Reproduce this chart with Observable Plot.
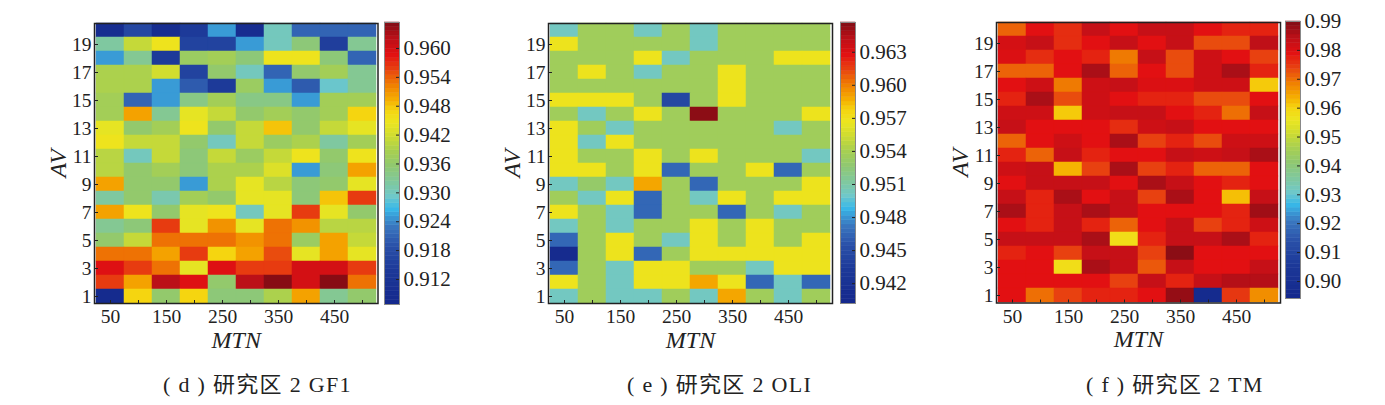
<!DOCTYPE html>
<html>
<head>
<meta charset="utf-8">
<script src="https://cdn.jsdelivr.net/npm/d3@7"></script>
<script src="https://cdn.jsdelivr.net/npm/@observablehq/plot@0.6"></script>
<style>
  body { margin: 0; background: #fff; }
  #chart { position: relative; width: 1385px; height: 405px; overflow: hidden; }
  #chart svg { position: absolute; max-width: none; background: transparent; }
  [aria-label="x-axis label"], [aria-label="y-axis label"] { font-style: italic; font-size: 24px; }
  .caption { position: absolute; top: 366px; font: 22px "Liberation Serif", "Noto Sans CJK SC", serif; letter-spacing: 1.3px; color: #222; white-space: pre; }
</style>
</head>
<body>
<div id="chart"></div>
<script>
const mtnValues = [50, 100, 150, 200, 250, 300, 350, 400, 450, 500]
const avValues = [20, 19, 18, 17, 16, 15, 14, 13, 12, 11, 10, 9, 8, 7, 6, 5, 4, 3, 2, 1]
const mtnTicks = [50, 150, 250, 350, 450]
const avTicks = [19, 17, 15, 13, 11, 9, 7, 5, 3, 1]

// one row per AV, from 20 down to 1
const gf1Values = [
  [.909, .917, .909, .914, .925, .909, .930, .921, .921, .921],
  [.932, .941, .945, .916, .916, .925, .930, .935, .915, .933],
  [.925, .933, .914, .937, .938, .935, .945, .945, .935, .921],
  [.939, .939, .942, .916, .936, .930, .921, .936, .938, .933],
  [.939, .939, .925, .920, .914, .937, .925, .920, .929, .933],
  [.938, .921, .925, .934, .938, .934, .934, .925, .938, .938],
  [.938, .950, .933, .944, .941, .936, .938, .936, .938, .947],
  [.944, .936, .938, .945, .936, .941, .948, .936, .941, .944],
  [.945, .941, .941, .936, .930, .941, .937, .939, .932, .938],
  [.940, .930, .941, .935, .941, .937, .941, .945, .936, .945],
  [.940, .936, .938, .935, .939, .939, .943, .925, .935, .950],
  [.950, .936, .936, .925, .939, .944, .940, .935, .936, .944],
  [.932, .936, .931, .938, .936, .944, .944, .935, .948, .956],
  [.950, .945, .936, .944, .945, .930, .944, .956, .944, .936],
  [.933, .935, .956, .944, .951, .944, .953, .951, .940, .940],
  [.936, .941, .953, .953, .953, .951, .953, .937, .950, .941],
  [.953, .953, .950, .956, .947, .950, .955, .944, .950, .944],
  [.959, .956, .953, .944, .959, .956, .956, .960, .960, .956],
  [.956, .950, .962, .959, .936, .962, .965, .960, .965, .953],
  [.908, .947, .936, .947, .935, .935, .939, .950, .933, .936]
]

const oliValues = [
  [.9502, .9536, .9536, .9502, .9536, .9502, .9536, .9536, .9536, .9536],
  [.9568, .9536, .9536, .9536, .9536, .9502, .9536, .9536, .9536, .9536],
  [.9536, .9536, .9536, .9568, .9502, .9536, .9536, .9536, .9568, .9568],
  [.9536, .9568, .9536, .9502, .9536, .9536, .9568, .9536, .9536, .9536],
  [.9536, .9536, .9536, .9536, .9536, .9536, .9568, .9536, .9536, .9536],
  [.9568, .9568, .9568, .9536, .9446, .9536, .9568, .9536, .9536, .9536],
  [.9536, .9502, .9536, .9568, .9536, .9654, .9536, .9536, .9536, .9568],
  [.9568, .9536, .9502, .9536, .9536, .9536, .9536, .9536, .9502, .9536],
  [.9568, .9502, .9568, .9536, .9536, .9536, .9536, .9536, .9536, .9536],
  [.9568, .9536, .9536, .9568, .9536, .9568, .9536, .9536, .9536, .9502],
  [.9568, .9568, .9536, .9568, .9465, .9536, .9536, .9568, .9465, .9536],
  [.9502, .9530, .9502, .9589, .9536, .9465, .9536, .9536, .9536, .9568],
  [.9536, .9502, .9568, .9465, .9536, .9502, .9568, .9536, .9568, .9568],
  [.9568, .9536, .9502, .9465, .9536, .9536, .9465, .9536, .9502, .9536],
  [.9502, .9536, .9502, .9536, .9536, .9568, .9536, .9568, .9536, .9536],
  [.9465, .9536, .9568, .9536, .9502, .9568, .9536, .9568, .9536, .9568],
  [.9408, .9536, .9568, .9465, .9536, .9568, .9568, .9568, .9568, .9568],
  [.9465, .9536, .9502, .9568, .9568, .9536, .9536, .9502, .9568, .9568],
  [.9568, .9536, .9502, .9568, .9568, .9589, .9568, .9465, .9502, .9465],
  [.9502, .9536, .9502, .9502, .9536, .9502, .9589, .9536, .9502, .9536]
]

const tmValues = [
  [.971, .979, .976, .983, .979, .983, .983, .979, .977, .977],
  [.981, .983, .976, .979, .983, .979, .983, .973, .973, .984],
  [.980, .976, .979, .977, .969, .983, .973, .982, .979, .974],
  [.971, .971, .979, .986, .971, .979, .973, .982, .986, .977],
  [.979, .982, .969, .982, .983, .980, .980, .982, .982, .961],
  [.977, .986, .973, .982, .979, .977, .977, .973, .973, .979],
  [.982, .982, .961, .982, .983, .983, .979, .977, .970, .983],
  [.983, .979, .979, .979, .976, .982, .983, .979, .979, .979],
  [.971, .979, .982, .979, .986, .974, .977, .973, .982, .982],
  [.977, .971, .983, .977, .979, .979, .983, .982, .983, .986],
  [.982, .983, .963, .974, .986, .974, .977, .971, .971, .979],
  [.979, .983, .983, .983, .979, .986, .983, .979, .977, .979],
  [.983, .977, .986, .979, .983, .974, .986, .979, .962, .983],
  [.986, .977, .983, .986, .983, .979, .979, .979, .977, .987],
  [.979, .977, .983, .977, .971, .979, .983, .974, .977, .982],
  [.983, .983, .983, .986, .958, .977, .983, .983, .986, .977],
  [.977, .979, .974, .983, .983, .974, .989, .979, .979, .979],
  [.979, .979, .958, .986, .983, .972, .983, .979, .979, .983],
  [.979, .979, .979, .979, .974, .983, .977, .983, .985, .985],
  [.979, .970, .974, .977, .977, .979, .988, .896, .975, .967]
]

const gf1Ticks = [.912, .918, .924, .930, .936, .942, .948, .954, .960]
const oliTicks = [.942, .945, .948, .951, .954, .957, .960, .963]
const tmTicks = [.90, .91, .92, .93, .94, .95, .96, .97, .98, .99]

// colour bar of the figure: position along the bar (0 bottom, 1 top) and colour
const barStops = [0, .117, .206, .278, .338, .384, .42, .491, .544, .598, .644, .687, .722, .776, .829, .885, .94, 1]
const barColors = ["#14288c", "#1c3898", "#2a50a8", "#3a78c0", "#38b8e8", "#70c8c8", "#7cc8a8", "#90c870", "#a8d050", "#d0dc30", "#ece620", "#f5d510", "#f5b000", "#f08000", "#e84510", "#e21012", "#bd1018", "#800c14"]
const barLevels = d3.range(64)

const panels = [
  {values: gf1Values, ticks: gf1Ticks, format: ".3f", domain: [.9068, .9654], left: 93.5, right: 377, top: 23, bottom: 303, barLeft: 383.5, barTop: 22, barBottom: 304, caption: "( d ) 研究区 2 GF1", captionLeft: 163},
  {values: oliValues, ticks: oliTicks, format: ".3f", domain: [.9402, .9657], left: 547.5, right: 831.5, top: 23, bottom: 303, barLeft: 839.5, barTop: 22, barBottom: 303, caption: "( e ) 研究区 2 OLI", captionLeft: 627},
  {values: tmValues, ticks: tmTicks, format: ".2f", domain: [.8941, .99], left: 996, right: 1280, top: 22, bottom: 302.5, barLeft: 1285, barTop: 21, barBottom: 298, caption: "( f ) 研究区 2 TM", captionLeft: 1086}
]

const chart = d3.select("#chart")
const svgHeight = 360
const svgStyle = {fontFamily: '"Liberation Serif", serif', fontSize: "19.5px", color: "#222"}

panels.forEach(p => {
  const [d0, d1] = p.domain
  const color = {type: "linear", domain: barStops.map(t => d0 + t * (d1 - d0)), range: barColors}
  const table = p.values.flatMap((row, i) => row.map((value, j) => ({mtn: mtnValues[j], av: avValues[i], value})))

  const originX = p.left - 60
  const heat = Plot.plot({
    width: p.right - originX + 6,
    height: svgHeight,
    marginLeft: 60,
    marginRight: 6,
    marginTop: p.top,
    marginBottom: svgHeight - p.bottom,
    style: svgStyle,
    color,
    x: {type: "band", domain: mtnValues, padding: 0},
    y: {type: "band", domain: avValues, padding: 0},
    marks: [
      Plot.cell(table, {x: "mtn", y: "av", fill: "value", stroke: "value", strokeWidth: 0.5}),
      Plot.tickX(mtnValues, {x: d => d, insetTop: p.bottom - p.top - 3, stroke: "#222"}),
      Plot.tickY(avTicks, {y: d => d, insetRight: p.right - p.left - 4, stroke: "#222"}),
      Plot.axisX({ticks: mtnTicks, tickSize: 0, tickPadding: 6, label: "MTN", labelAnchor: "center", labelArrow: "none", labelOffset: 44, fill: "#222"}),
      Plot.axisY({ticks: avTicks, tickSize: 0, tickPadding: 3, label: "AV", labelAnchor: "center", labelArrow: "none", labelOffset: 46, fill: "#222"}),
      Plot.frame({stroke: "#222", strokeWidth: 1.5})
    ]
  })
  d3.select(heat).style("left", originX + "px").style("top", "0px")
  chart.append(() => heat)

  const bar = Plot.plot({
    width: 85,
    height: svgHeight,
    marginLeft: 0,
    marginRight: 70,
    marginTop: p.barTop,
    marginBottom: svgHeight - p.barBottom,
    style: {...svgStyle, fontSize: "21px"},
    color,
    x: {domain: [0, 1], axis: null},
    y: {domain: p.domain, axis: null},
    marks: [
      Plot.rect(barLevels, {
        x1: 0,
        x2: 1,
        y1: i => d0 + i / 64 * (d1 - d0),
        y2: i => d0 + (i + 1) / 64 * (d1 - d0),
        fill: i => d0 + (i + .5) / 64 * (d1 - d0),
        stroke: i => d0 + (i + .5) / 64 * (d1 - d0),
        strokeWidth: 0.5
      }),
      Plot.tickY(p.ticks, {y: d => d, insetLeft: 12, stroke: "#222"}),
      Plot.axisY({anchor: "right", ticks: p.ticks, tickSize: 0, tickPadding: 4, tickFormat: p.format, label: null, fill: "#222"}),
      Plot.frame({stroke: "#888", strokeWidth: 1})
    ]
  })
  d3.select(bar).style("left", p.barLeft + "px").style("top", "0px")
  chart.append(() => bar)

  chart.append("div").attr("class", "caption").style("left", p.captionLeft + "px").text(p.caption)
})
</script>
</body>
</html>
